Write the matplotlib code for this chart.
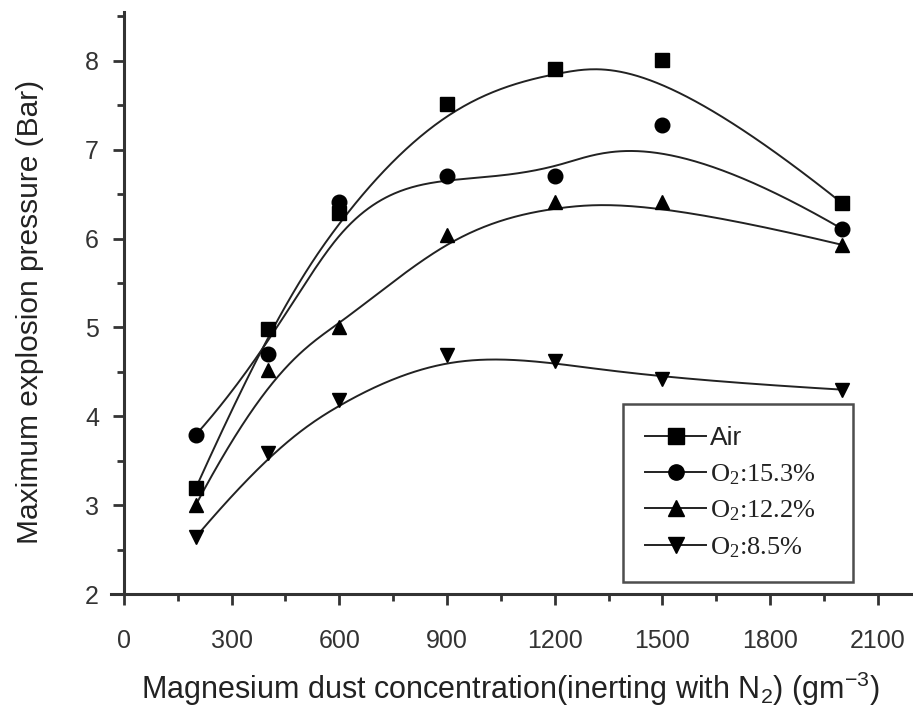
import numpy as np
import matplotlib
matplotlib.use("Agg")
import matplotlib.pyplot as plt
from matplotlib.ticker import MultipleLocator

# Dust concentration (g/m^3)
conc = [200, 400, 600, 900, 1200, 1500, 2000]

# Maximum explosion pressure (bar) for each atmosphere
p_air = [3.19, 4.98, 6.29, 7.51, 7.91, 8.01, 6.40]
p_o2_153 = [3.79, 4.70, 6.41, 6.70, 6.70, 7.28, 6.11]
p_o2_122 = [3.00, 4.52, 5.00, 6.04, 6.41, 6.41, 5.93]
p_o2_85 = [2.64, 3.59, 4.18, 4.69, 4.62, 4.42, 4.30]

labels = ["Air", r"O$\mathregular{_2}$:15.3%", r"O$\mathregular{_2}$:12.2%",
          r"O$\mathregular{_2}$:8.5%"]
markers = ["s", "o", "^", "v"]


def bspline(xs, ys, k=3, num=300):
    # clamped B-spline using the data points as control points
    P = np.column_stack([xs, ys]).astype(float)
    n = len(P)
    inner = np.linspace(0, 1, n - k + 1)[1:-1]
    knots = np.concatenate([np.zeros(k + 1), inner, np.ones(k + 1)])
    t = np.linspace(0, 1, num)
    t[-1] -= 1e-10
    N = np.zeros((num, len(knots) - 1))
    for i in range(len(knots) - 1):
        N[:, i] = (t >= knots[i]) & (t < knots[i + 1])
    for d in range(1, k + 1):
        Nn = np.zeros((num, len(knots) - 1 - d))
        for i in range(len(knots) - 1 - d):
            a = knots[i + d] - knots[i]
            b = knots[i + d + 1] - knots[i + 1]
            left = (t - knots[i]) / a * N[:, i] if a > 0 else 0
            right = (knots[i + d + 1] - t) / b * N[:, i + 1] if b > 0 else 0
            Nn[:, i] = left + right
        N = Nn
    curve = N @ P
    return curve[:, 0], curve[:, 1]


fig = plt.figure(figsize=(9.13, 7.18), dpi=100)
ax = fig.add_axes([111 / 913, 1 - 594 / 718, 802 / 913, 582 / 718])

for ys, m, lab in zip([p_air, p_o2_153, p_o2_122, p_o2_85], markers, labels):
    cx, cy = bspline(conc, ys)
    ax.plot(cx, cy, color="#222222", lw=1.4, zorder=2)
    ax.plot(conc, ys, linestyle="none", marker=m, color="black",
            markersize=10.5, zorder=3)
    # proxy for the legend entry
    ax.plot([], [], color="#222222", lw=1.4, marker=m, markersize=11,
            markerfacecolor="black", markeredgecolor="black", label=lab)

ax.set_xlim(-36, 2198)
ax.set_ylim(2, 8.55)
ax.spines["left"].set_position(("data", 0))
ax.spines["top"].set_visible(False)
ax.spines["right"].set_visible(False)
for s in ["left", "bottom"]:
    ax.spines[s].set_linewidth(2.2)
    ax.spines[s].set_color("#333333")

ax.xaxis.set_major_locator(MultipleLocator(300))
ax.xaxis.set_minor_locator(MultipleLocator(150))
ax.yaxis.set_major_locator(MultipleLocator(1))
ax.yaxis.set_minor_locator(MultipleLocator(0.5))
ax.tick_params(which="major", direction="out", length=8, width=2,
               color="#333333", labelsize=18, labelcolor="#333333")
ax.tick_params(which="minor", direction="out", length=5, width=2,
               color="#333333")
ax.tick_params(axis="x", which="major", pad=17)
ax.tick_params(axis="y", which="major", pad=10)
for lbl in ax.get_xticklabels() + ax.get_yticklabels():
    lbl.set_fontfamily("Liberation Sans")

ax.set_ylabel("Maximum explosion pressure (Bar)", fontsize=21.5,
              family="Liberation Sans", color="#222222")
ax.yaxis.set_label_coords(-0.084, 0.485)
ax.set_xlabel(r"Magnesium dust concentration(inerting with N$\mathregular{_2}$) (gm$\mathregular{^{-3}}$)",
              fontsize=22, family="Liberation Sans", color="#222222")
ax.xaxis.set_label_coords(0.4975, -0.13)

leg = ax.legend(loc="lower left", bbox_to_anchor=((623 - 111) / 802, (594 - 582) / 582,
                                                   230 / 802, 171 / 582),
                mode="expand", frameon=True, fancybox=False, handlelength=2.3,
                handletextpad=0.15, labelspacing=0.45, borderpad=0.85,
                borderaxespad=0,
                prop={"family": "Liberation Serif", "size": 19})
leg.get_frame().set_edgecolor("#222222")
leg.get_frame().set_linewidth(1.8)
leg.get_texts()[0].set_fontfamily("Liberation Sans")
for txt in leg.get_texts():
    txt.set_color("#222222")

fig.savefig("out.png", dpi=100)
